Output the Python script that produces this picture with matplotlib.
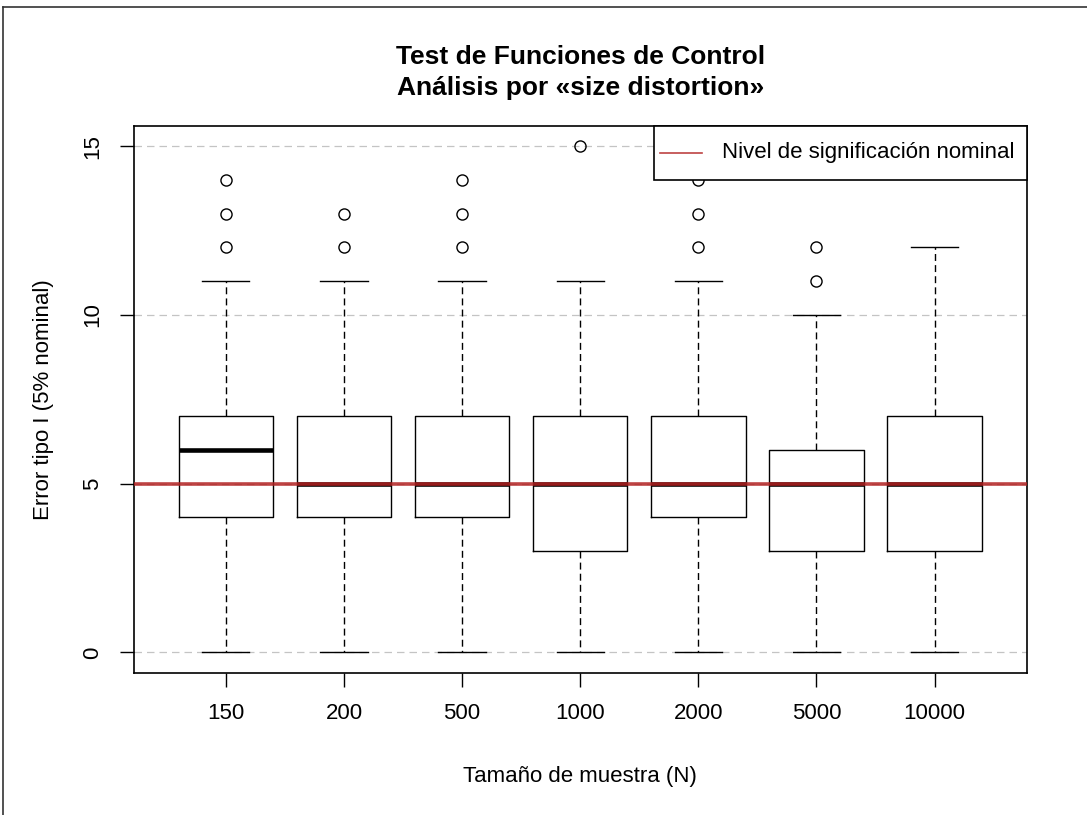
import matplotlib
matplotlib.use("Agg")
import matplotlib.pyplot as plt
from matplotlib.lines import Line2D
from matplotlib.patches import Rectangle

plt.rcParams['font.family'] = ['Liberation Sans', 'DejaVu Sans']

# resumen de cada caja: error tipo I (%) por tamaño de muestra
tamanos = ['150', '200', '500', '1000', '2000', '5000', '10000']
bigote_inf = [0, 0, 0, 0, 0, 0, 0]
cuartil_1 = [4, 4, 4, 3, 4, 3, 3]
mediana = [6, 5, 5, 5, 5, 5, 5]
cuartil_3 = [7, 7, 7, 7, 7, 6, 7]
bigote_sup = [11, 11, 11, 11, 11, 10, 12]
atipicos = [[12, 13, 14], [12, 13], [12, 13, 14], [15], [12, 13, 14], [11, 12], []]
nivel_nominal = 5

stats = []
for i, nom in enumerate(tamanos):
    stats.append(dict(label=nom, whislo=bigote_inf[i], q1=cuartil_1[i], med=mediana[i],
                      q3=cuartil_3[i], whishi=bigote_sup[i], fliers=atipicos[i]))

fig = plt.figure(figsize=(10.87, 8.15), dpi=100)
ax = fig.add_axes([0.1230, 0.1746, 0.8215, 0.6708])

for y in [0, 5, 10, 15]:
    ax.axhline(y, color='#c4c4c4', lw=0.9, dashes=(6, 4), zorder=0)

ax.bxp(stats, positions=range(1, 8), widths=0.8, capwidths=0.4,
       boxprops=dict(color='black', lw=1.0),
       medianprops=dict(color='black', lw=3.3, solid_capstyle='butt'),
       whiskerprops=dict(color='black', lw=1.0, dashes=(5, 3)),
       capprops=dict(color='black', lw=1.0),
       flierprops=dict(marker='o', markersize=8, markerfacecolor='none',
                       markeredgecolor='black', markeredgewidth=1.0),
       zorder=2)

ax.axhline(nivel_nominal, color='#b22222', alpha=0.85, lw=2.6, zorder=3)

ax.set_xlim(0.22, 7.78)
ax.set_ylim(-0.6, 15.6)
ax.set_yticks([0, 5, 10, 15])
ax.set_yticklabels(['0', '5', '10', '15'], rotation=90, va='center')
ax.set_xticks(range(1, 8))
ax.set_xticklabels(tamanos)
ax.tick_params(axis='both', length=10, width=1.0, labelsize=16, pad=12)
for s in ax.spines.values():
    s.set_linewidth(1.2)

ax.set_xlabel('Tamaño de muestra (N)', fontsize=16, labelpad=30)
ax.set_ylabel('Error tipo I (5% nominal)', fontsize=16, labelpad=20)

fig.text(0.534, 1 - 64 / 815, 'Test de Funciones de Control', ha='center', va='baseline',
         fontsize=19, fontweight='bold')
fig.text(0.534, 1 - 95 / 815, 'Análisis por «size distortion»', ha='center', va='baseline',
         fontsize=19, fontweight='bold')

# leyenda en la esquina superior derecha, pegada al borde de los ejes
ax.add_patch(Rectangle((0.5826, 0.9012), 0.4174, 0.0988, transform=ax.transAxes,
                       facecolor='white', edgecolor='black', lw=1.2, zorder=5, clip_on=False))
ax.add_line(Line2D([0.5894, 0.6364], [0.9512, 0.9512], transform=ax.transAxes,
                   color='#b22222', alpha=0.85, lw=1.2, zorder=6))
ax.text(0.6588, 0.9512, 'Nivel de significación nominal', transform=ax.transAxes,
        fontsize=16, va='center', ha='left', zorder=6)

# marco exterior
fig.add_artist(Line2D([3 / 1087, 3 / 1087], [0, 1 - 7 / 815], color='#333333', lw=1.2))
fig.add_artist(Line2D([3 / 1087, 1], [1 - 7 / 815, 1 - 7 / 815], color='#333333', lw=1.2))

fig.savefig('out.png', dpi=100)
